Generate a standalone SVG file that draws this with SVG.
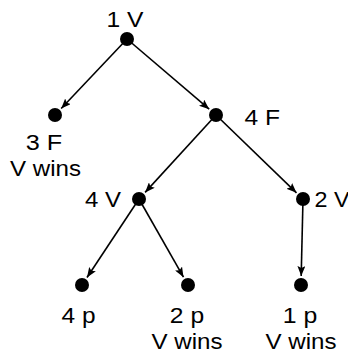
<svg xmlns="http://www.w3.org/2000/svg" width="348" height="356" viewBox="0 0 348 356">
<style>
.lbl{font-family:"Liberation Sans",Arial,Helvetica,sans-serif;font-size:22px;fill:#000}
.dot{fill:#000}
.edge{stroke:#000;stroke-width:1.6;fill:none;marker-end:url(#ah)}
</style>
<defs>
<marker id="ah" viewBox="0 0 10 8" refX="10" refY="4" markerWidth="10" markerHeight="8" markerUnits="userSpaceOnUse" orient="auto">
<path d="M0,0 L10,4 L0,8 L2,4 z" fill="#000"/>
</marker>
</defs>
<rect width="348" height="356" fill="#fff"/>
<g id="connectors">
<line class="edge" x1="127" y1="39" x2="61.2" y2="108.5"/>
<line class="edge" x1="127" y1="39" x2="209.2" y2="109.2"/>
<line class="edge" x1="216" y1="115" x2="145.1" y2="192.4"/>
<line class="edge" x1="216" y1="115" x2="296.5" y2="192.8"/>
<line class="edge" x1="139" y1="199" x2="87" y2="277.5"/>
<line class="edge" x1="139" y1="199" x2="183.5" y2="277.2"/>
<line class="edge" x1="303" y1="199" x2="301.2" y2="276"/>
</g>
<g id="n-root">
<circle class="dot" cx="127" cy="39" r="7"/>
<text class="lbl" x="125" y="27" text-anchor="middle" textLength="37" lengthAdjust="spacingAndGlyphs">1 V</text>
</g>
<g id="n-3F">
<circle class="dot" cx="55" cy="115" r="7"/>
<text class="lbl" x="44" y="149.5" text-anchor="middle" textLength="36.5" lengthAdjust="spacingAndGlyphs">3 F</text>
<text class="lbl" x="45.5" y="175.5" text-anchor="middle" textLength="71" lengthAdjust="spacingAndGlyphs">V wins</text>
</g>
<g id="n-4F">
<circle class="dot" cx="216" cy="115" r="7"/>
<text class="lbl" x="244.5" y="125" textLength="35.5" lengthAdjust="spacingAndGlyphs">4 F</text>
</g>
<g id="n-4V">
<circle class="dot" cx="139" cy="199" r="7"/>
<text class="lbl" x="121" y="207" text-anchor="end" textLength="36" lengthAdjust="spacingAndGlyphs">4 V</text>
</g>
<g id="n-2V">
<circle class="dot" cx="303" cy="199" r="7"/>
<text class="lbl" x="314.5" y="207" textLength="35" lengthAdjust="spacingAndGlyphs">2 V</text>
</g>
<g id="n-4p">
<circle class="dot" cx="82" cy="285" r="7"/>
<text class="lbl" x="78.5" y="323" text-anchor="middle" textLength="34" lengthAdjust="spacingAndGlyphs">4 p</text>
</g>
<g id="n-2p">
<circle class="dot" cx="188" cy="285" r="7"/>
<text class="lbl" x="187" y="323" text-anchor="middle" textLength="34.3" lengthAdjust="spacingAndGlyphs">2 p</text>
<text class="lbl" x="187" y="349" text-anchor="middle" textLength="71" lengthAdjust="spacingAndGlyphs">V wins</text>
</g>
<g id="n-1p">
<circle class="dot" cx="301" cy="285" r="7"/>
<text class="lbl" x="300" y="323" text-anchor="middle" textLength="34.5" lengthAdjust="spacingAndGlyphs">1 p</text>
<text class="lbl" x="301" y="349" text-anchor="middle" textLength="71" lengthAdjust="spacingAndGlyphs">V wins</text>
</g>
</svg>
